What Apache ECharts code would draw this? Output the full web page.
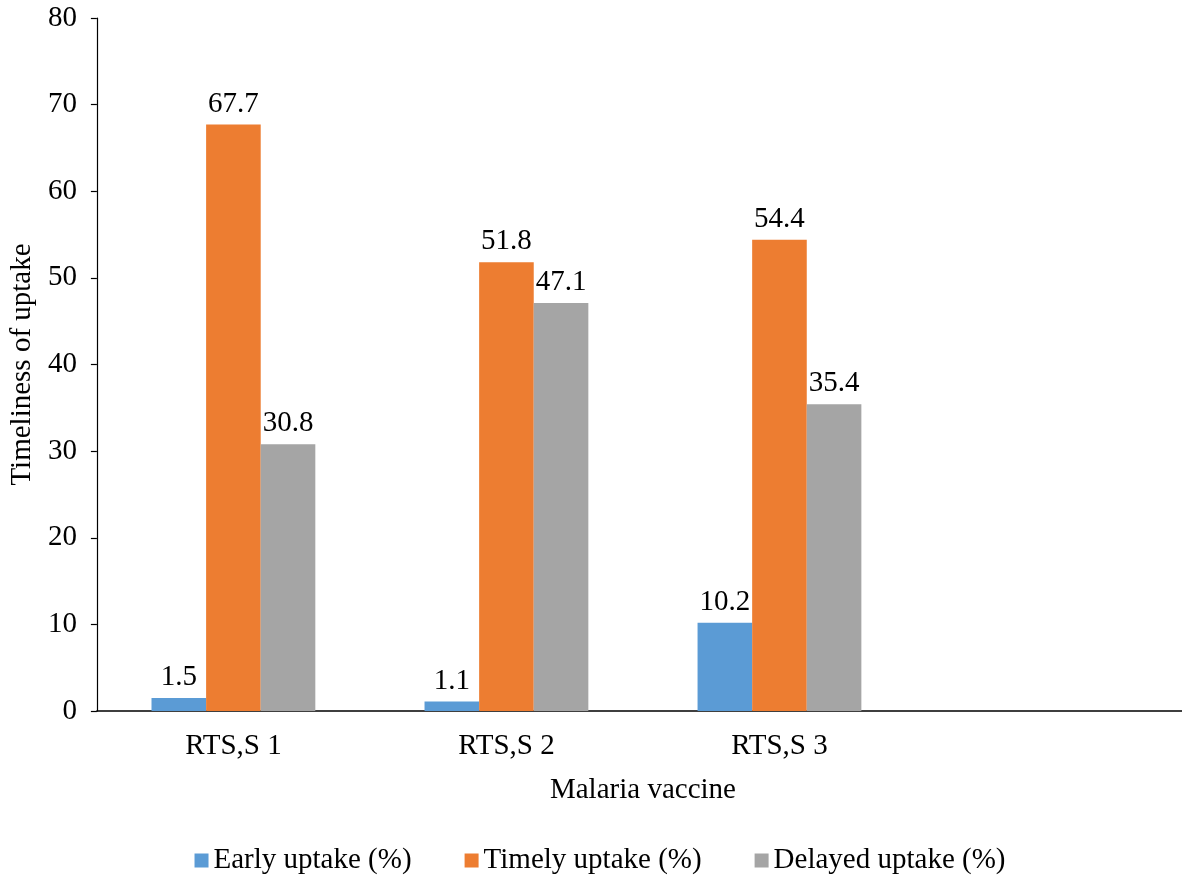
<!DOCTYPE html>
<html>
<head>
<meta charset="utf-8">
<script src="https://cdn.jsdelivr.net/npm/echarts@6/dist/echarts.min.js"></script>
<style>
html,body{margin:0;padding:0;background:#fff;overflow:hidden;}
#chart{width:1200px;height:880px;}
</style>
</head>
<body>
<div id="chart"></div>
<script>
var categories = ['RTS,S 1', 'RTS,S 2', 'RTS,S 3', ''];
var earlyUptake = [1.5, 1.1, 10.2, null];
var timelyUptake = [67.7, 51.8, 54.4, null];
var delayedUptake = [30.8, 47.1, 35.4, null];
var seriesNames = ['Early uptake (%)', 'Timely uptake (%)', 'Delayed uptake (%)'];
var colors = ['#5B9BD5', '#ED7D31', '#A5A5A5'];

var FONT = '"Liberation Serif", "Times New Roman", serif';
var FS = 29;
var chart = echarts.init(document.getElementById('chart'), null, {renderer: 'canvas'});

function mkSeries(name, data, color) {
  return {
    name: name,
    type: 'bar',
    data: data,
    barGap: '0%',
    barCategoryGap: '40%',
    itemStyle: {color: color},
    label: {
      show: true,
      position: 'top',
      distance: 6,
      color: '#000',
      fontFamily: FONT,
      fontSize: FS
    }
  };
}

chart.setOption({
  animation: false,
  textStyle: {fontFamily: FONT},
  grid: {left: 94, top: 18, width: 1095, height: 693, containLabel: false},
  legend: {
    data: seriesNames,
    bottom: 0,
    left: 'center',
    itemWidth: 14,
    itemHeight: 14,
    itemGap: 53,
    icon: 'rect',
    textStyle: {fontFamily: FONT, fontSize: FS, color: '#000'}
  },
  xAxis: {
    type: 'category',
    data: categories,
    name: 'Malaria vaccine',
    nameLocation: 'middle',
    nameGap: 65,
    nameTextStyle: {fontFamily: FONT, fontSize: FS, color: '#000'},
    axisLine: {lineStyle: {color: '#000', width: 1.5}},
    axisTick: {show: false},
    axisLabel: {fontFamily: FONT, fontSize: FS, color: '#000', margin: 21},
    splitLine: {show: false}
  },
  yAxis: {
    type: 'value',
    min: 0,
    max: 80,
    interval: 10,
    name: 'Timeliness of uptake',
    nameLocation: 'middle',
    nameGap: 55,
    nameTextStyle: {fontFamily: FONT, fontSize: FS, color: '#000'},
    axisLine: {show: true, lineStyle: {color: '#000', width: 1.2}},
    axisTick: {show: true, length: 6, lineStyle: {color: '#000', width: 1.2}},
    axisLabel: {fontFamily: FONT, fontSize: FS, color: '#000', margin: 20},
    splitLine: {show: false}
  },
  series: [
    mkSeries(seriesNames[0], earlyUptake, colors[0]),
    mkSeries(seriesNames[1], timelyUptake, colors[1]),
    mkSeries(seriesNames[2], delayedUptake, colors[2])
  ]
});
</script>
</body>
</html>
